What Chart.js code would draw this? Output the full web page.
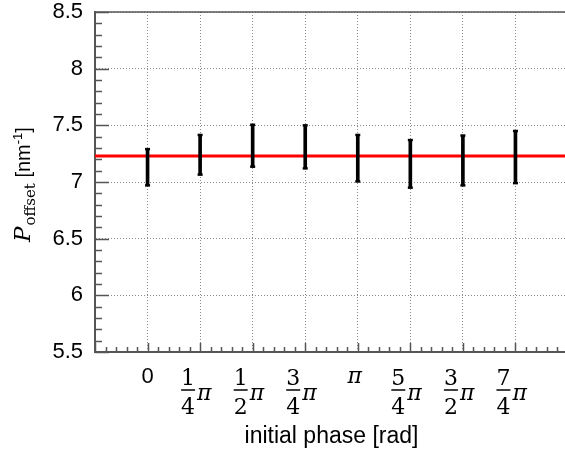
<!DOCTYPE html>
<html>
<head>
<meta charset="utf-8">
<script src="https://cdn.jsdelivr.net/npm/chart.js@4.4.0/dist/chart.umd.min.js"></script>
<style>
  html, body { margin: 0; padding: 0; background: #fff; overflow: hidden; }
  #wrap { width: 568px; height: 453px; }
</style>
</head>
<body>
<div id="wrap"><canvas id="phaseChart" width="568" height="453"></canvas></div>
<script>
// initial phase, in units of pi/4
const phaseIndex = [0, 1, 2, 3, 4, 5, 6, 7];
const phaseLabels = ['0', '1/4π', '1/2π', '3/4π', 'π', '5/4π', '3/2π', '7/4π'];
// P_offset and its error
const offsetValues = [7.13, 7.24, 7.32, 7.31, 7.21, 7.16, 7.19, 7.22];
const offsetErrors = [0.16, 0.175, 0.185, 0.19, 0.205, 0.21, 0.22, 0.23];
const fitValue = 7.23;
const yTicks = [5.5, 6, 6.5, 7, 7.5, 8, 8.5];

const sansFont = "'Liberation Sans', Arial, sans-serif";
const serifFont = "'DejaVu Serif', serif";

function noPadding(s) {
    s.paddingTop = 0;
    s.paddingBottom = 0;
    s.paddingLeft = 0;
    s.paddingRight = 0;
}

// ticks inside the frame, fraction labels, y title
const decorPlugin = {
    id: 'decor',
    afterDraw(chart) {
        const c = chart.ctx;
        const a = chart.chartArea;
        const xs = chart.scales.x;
        const ys = chart.scales.y;
        c.save();
        c.strokeStyle = '#555';
        c.lineWidth = 1.5;
        // top frame line
        c.beginPath();
        c.moveTo(a.left, a.top);
        c.lineTo(a.right + 2, a.top);
        c.stroke();
        // x ticks (major every pi/4, minor every fifth)
        for (let k = -5; k <= 40; k++) {
            const px = Math.round(xs.getPixelForValue(k / 5)) + 0.5;
            const len = (k % 5 === 0) ? 9 : 5;
            c.beginPath();
            c.moveTo(px, a.bottom);
            c.lineTo(px, a.bottom - len);
            c.stroke();
        }
        // y ticks
        for (let k = 55; k <= 85; k++) {
            const py = Math.round(ys.getPixelForValue(k / 10)) + 0.5;
            const len = (k % 5 === 0) ? 14 : 7;
            c.beginPath();
            c.moveTo(a.left, py);
            c.lineTo(a.left + len, py);
            c.stroke();
        }
        c.restore();

        // x tick labels
        c.save();
        c.fillStyle = '#000';
        c.strokeStyle = '#000';
        phaseLabels.forEach(function (lab, i) {
            const x = xs.getPixelForValue(phaseIndex[i]);
            if (lab.indexOf('/') < 0) {
                c.textAlign = 'center';
                c.textBaseline = 'alphabetic';
                if (lab === 'π') {
                    c.font = 'italic 22px ' + serifFont;
                    c.fillText(lab, x - 3, 383);
                } else {
                    c.font = '22px ' + sansFont;
                    c.fillText(lab, x, 383);
                }
                return;
            }
            const parts = lab.split('/');
            const num = parts[0];
            const den = parts[1].replace('π', '');
            const fracX = x - 12;
            c.font = '22px ' + serifFont;
            c.textAlign = 'center';
            c.textBaseline = 'alphabetic';
            c.fillText(num, fracX, 385);
            c.fillText(den, fracX, 414);
            c.lineWidth = 1.5;
            c.beginPath();
            c.moveTo(fracX - 7, 390);
            c.lineTo(fracX + 7, 390);
            c.stroke();
            c.font = 'italic 22px ' + serifFont;
            c.textAlign = 'left';
            c.fillText('π', x - 3, 400);
        });
        c.restore();

        // y axis title: P_offset [nm-1]
        c.save();
        c.fillStyle = '#000';
        c.textBaseline = 'alphabetic';
        c.textAlign = 'left';
        const pieces = [
            { t: 'P', f: 'italic 23px ' + serifFont, dy: 0 },
            { t: 'offset', f: '15px ' + serifFont, dy: 5 },
            { t: ' [nm', f: '20px ' + sansFont, dy: 0 },
            { t: '-1', f: '13px ' + sansFont, dy: -8 },
            { t: ']', f: '20px ' + sansFont, dy: 0 }
        ];
        let total = 0;
        pieces.forEach(function (p) { c.font = p.f; p.w = c.measureText(p.t).width; total += p.w; });
        const cy = (a.top + a.bottom) / 2 + 3;
        c.translate(30, cy + total / 2);
        c.rotate(-Math.PI / 2);
        let cx = 0;
        pieces.forEach(function (p) {
            c.font = p.f;
            c.fillText(p.t, cx, p.dy);
            cx += p.w + (p.t === 'P' ? 1 : 0);
        });
        c.restore();
    }
};

const ctx = document.getElementById('phaseChart').getContext('2d');
new Chart(ctx, {
    type: 'bar',
    data: {
        datasets: [
            {
                type: 'line',
                label: 'fit',
                data: [{ x: -1, y: fitValue }, { x: 8, y: fitValue }],
                borderColor: '#ff0000',
                borderWidth: 3,
                pointRadius: 0,
                order: 3
            },
            {
                type: 'bar',
                label: 'error',
                data: phaseIndex.map((p, i) => ({ x: p, y: [offsetValues[i] - offsetErrors[i], offsetValues[i] + offsetErrors[i]] })),
                backgroundColor: '#000',
                borderWidth: 0,
                barThickness: 3,
                order: 2
            },
            {
                type: 'scatter',
                label: 'caps',
                data: phaseIndex.flatMap((p, i) => [
                    { x: p, y: offsetValues[i] - offsetErrors[i] },
                    { x: p, y: offsetValues[i] + offsetErrors[i] }
                ]),
                pointStyle: 'line',
                pointRadius: 2.5,
                borderColor: '#000',
                borderWidth: 2.5,
                order: 1
            }
        ]
    },
    options: {
        responsive: false,
        animation: false,
        layout: { autoPadding: false, padding: { top: 12, left: 0, right: 0, bottom: 0 } },
        plugins: {
            legend: { display: false },
            tooltip: { enabled: false }
        },
        scales: {
            x: {
                type: 'linear',
                min: -1,
                max: 8,
                offset: false,
                afterBuildTicks: function (s) { s.ticks = phaseIndex.map(v => ({ value: v })); },
                afterFit: function (s) { s.height = 101; noPadding(s); },
                grid: { color: '#8a8a8a', lineWidth: 1, drawTicks: false, offset: false },
                border: { display: true, color: '#555', width: 2, dash: [1, 2] },
                ticks: { display: false },
                title: {
                    display: true,
                    text: 'initial phase [rad]',
                    color: '#000',
                    font: { family: sansFont, size: 23 },
                    padding: { top: 0, bottom: 3 }
                }
            },
            y: {
                min: 5.5,
                max: 8.5,
                afterBuildTicks: function (s) { s.ticks = yTicks.map(v => ({ value: v })); },
                afterFit: function (s) { s.width = 95; noPadding(s); },
                grid: { color: '#8a8a8a', lineWidth: 1, drawTicks: false },
                border: { display: true, color: '#555', width: 2, dash: [1, 2] },
                ticks: {
                    color: '#000',
                    padding: 12,
                    font: { family: sansFont, size: 22 },
                    callback: v => String(v)
                }
            }
        }
    },
    plugins: [decorPlugin]
});
</script>
</body>
</html>
